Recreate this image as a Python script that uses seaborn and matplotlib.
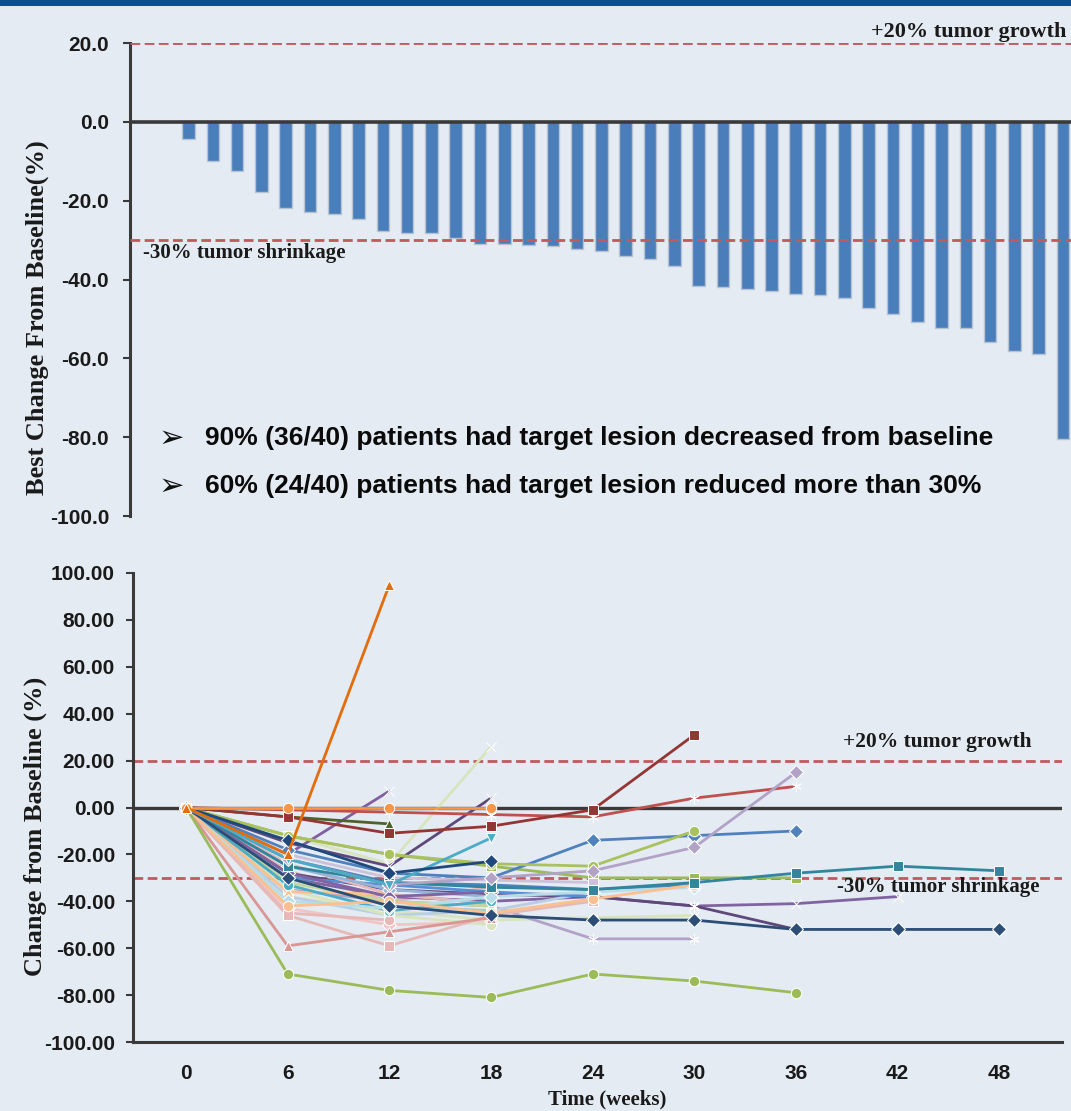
import matplotlib
matplotlib.use("Agg")
import matplotlib.pyplot as plt
from matplotlib.patches import Rectangle
import numpy as np
import pandas as pd
import seaborn as sns

# ---------------- data ----------------
# Waterfall: best change from baseline per patient (%)
patient_ids = list(range(1, 40))
best_change = [0, 0, -4.3, -10, -12.4, -17.7, -21.8, -23, -23.3, -24.6,
               -27.7, -28.2, -28.2, -29.5, -31, -31, -31.3, -31.6, -32.2,
               -32.8, -34, -34.7, -36.5, -41.6, -41.8, -42.5, -42.8, -43.8,
               -43.9, -44.8, -47.2, -48.7, -50.8, -52.2, -52.3, -55.8, -58.1,
               -58.8, -80.5]

# Spider plot: change from baseline (%) at each assessment
weeks = [0, 6, 12, 18, 24, 30, 36, 42, 48]
p01 = [0, -25, -35, -38]
p02 = [0, -30, -42, -44]
p03 = [0, -32, -40, -42]
p04 = [0, -45, -48]
p05 = [0, -36, -37]
p06 = [0, -22, -32, -33, -35, -33]
p07 = [0, -28, -38, -36]
p08 = [0, -33, -44, -40]
p09 = [0, -12, -20, -25, -30, -30, -30]
p10 = [0, -40, -43, -38, -36, -34]
p11 = [0, -27, -40, -34]
p12 = [0, -20, -30, -31, -32]
p13 = [0, -46, -59, -46, -40]
p14 = [0, -59, -53, -47]
p15 = [0, -42, -40, -45, -39, -33]
p16 = [0, -38, -44, -48, -47, -46]
p17 = [0, -35, -40, -42, -56, -56]
p18 = [0, -18, -28, -30, -14, -12, -10]
p19 = [0, -12, -20, -24, -25, -10]
p20 = [0, -25, -32, -34, -35, -32, -28, -25, -27]
p21 = [0, -30, -38, -40, -38, -42, -41, -38]
p22 = [0, -28, -35, -37, -38, -42, -52]
p23 = [0, -30, -42, -46, -48, -48, -52, -52, -52]
p24 = [0, -22, -33, -30, -27, -17, 15]
p25 = [0, -22, -33, -13]
p26 = [0, -12, -24, 26]
p27 = [0, -15, -25, 4]
p28 = [0, -20, 7]
p29 = [0, -4, -7]
p30 = [0, -1, -2, -3, -4, 4, 9]
p31 = [0, -4, -11, -8, -1, 31]
p32 = [0, -71, -78, -81, -71, -74, -79]
p33 = [0, -14, -28, -23]
p34 = [0, 0, 0, 0]
p35 = [0, -20, 95]
p36 = [0, -38, -46, -44, -36]
p37 = [0, -43, -50, -49]
p38 = [0, -30, -33, -36, -38]
p39 = [0, -35, -46, -50]
p40 = [0, -24, -37, -41]

series = [p36, p37, p38, p39, p40, p01, p02, p03, p04, p05, p06, p07, p08,
          p09, p10, p11, p12, p13, p14, p15, p16, p17, p18, p19, p20, p21,
          p22, p23, p24, p25, p26, p27, p28, p29, p30, p31, p32, p33, p34,
          p35]
line_colors = ['#B9CDE5', '#F2C4C3', '#558ED5', '#D7E4BD', '#E6B9B8',
               '#95B3D7', '#93CDDD', '#C3D69B', '#E6B9B8', '#FAC090',
               '#4F81BD', '#8064A2', '#4BACC6', '#9BBB59', '#B7DEE8',
               '#E6B9B8', '#CCC1DA', '#E6B9B8', '#D99694', '#FAC090',
               '#D7E4BD', '#B3A2C7', '#4F81BD', '#A9C25D', '#31859C',
               '#8064A2', '#5F497A', '#2C4D75', '#B3A2C7', '#4BACC6',
               '#D7E4BD', '#5F497A', '#7F5FA0', '#4F6228', '#C0504D',
               '#943634', '#9BBB59', '#1F497D', '#F79646', '#E46C0A']
line_markers = ['s', 'D', 'D', 'o', '^', 'D', 'o', '^', 'o', '^',
                's', 'D', 'o', 's', 'D', 'x', 's', 's', '^', 'o',
                (6, 2, 0), (6, 2, 0), 'D', 'o', 's', 'x', (6, 2, 0), 'D',
                'D', 'v', 'x', 'x', 'x', '^', (6, 2, 0), 's', 'o', 'D',
                'o', '^']

# ---------------- style ----------------
BG = '#E4EBF3'
sns.set_theme(style='white')
plt.rcParams['font.family'] = ['Liberation Sans', 'DejaVu Sans']
plt.rcParams['axes.facecolor'] = 'none'

W, H = 1071, 1111
fig = plt.figure(figsize=(W / 100, H / 100), dpi=100, facecolor=BG)


def fx(x):
    return x / W


def fy(y):
    return 1 - y / H


# dark header strip
fig.add_artist(Rectangle((0, fy(6)), 1, 6 / H, transform=fig.transFigure,
                         color='#0F4D8C', lw=0))

AXC = '#3A3A3A'
REF = '#C05A5E'
serif = ['Liberation Serif', 'DejaVu Serif']

# ---------------- waterfall ----------------
ax1 = fig.add_axes([fx(130), fy(516), fx(1071 - 130), (516 - 43) / H])
ax1.set_facecolor('none')
sns.barplot(x=patient_ids, y=best_change, color='#4A7EBB', width=0.52,
            edgecolor='#B7C3D0', linewidth=1.0, saturation=1, ax=ax1)
ax1.set_xlim(-0.41, 38.33)
ax1.set_ylim(-100, 20)
yt1 = [20, 0, -20, -40, -60, -80, -100]
ax1.set_yticks(yt1)
ax1.set_yticklabels([f'{v:.1f}' for v in yt1], fontsize=15,
                    fontweight='bold', color='#1A1A1A')
ax1.set_xticks([])
ax1.set_xlabel('')
ax1.set_ylabel('')
ax1.tick_params(axis='y', direction='out', length=5, width=1.5,
                color=AXC, pad=10, left=True)
for s in ['top', 'right', 'bottom']:
    ax1.spines[s].set_visible(False)
ax1.spines['left'].set_color(AXC)
ax1.spines['left'].set_linewidth(2.2)
ax1.axhline(0, color=AXC, lw=2.6, zorder=3)
ax1.axhline(20, color=REF, lw=2, ls=(0, (3.5, 1.6)), zorder=4)
ax1.axhline(-30, color=REF, lw=2, ls=(0, (3.5, 1.6)), zorder=4)

fig.text(fx(1066), fy(32), '+20% tumor growth', ha='right', va='center',
         fontsize=16, fontweight='bold', family=serif, color='#1A1A1A')
fig.text(fx(143), fy(253), '-30% tumor shrinkage', ha='left', va='center',
         fontsize=15, fontweight='bold', family=serif, color='#1A1A1A')
fig.text(fx(37), fy(318), 'Best Change From Baseline(%)', rotation=90,
         ha='center', va='center', fontsize=19, fontweight='bold',
         family=serif, color='#1A1A1A')

for ytxt, msg in [(438, '90% (36/40) patients had target lesion decreased from baseline'),
                  (486, '60% (24/40) patients had target lesion reduced more than 30%')]:
    fig.text(fx(159), fy(ytxt), '\u27A2', ha='left', va='center',
             fontsize=22, family=['DejaVu Sans'], color='#111111')
    fig.text(fx(205), fy(ytxt), msg, ha='left', va='center', fontsize=19,
             fontweight='bold', color='#0A0A0A')

# ---------------- spider plot ----------------
ax2 = fig.add_axes([fx(133), fy(1042), fx(1062 - 133), (1042 - 573) / H])
ax2.set_facecolor('none')
ax2.axhline(0, color=AXC, lw=2.4, zorder=1)
ax2.axhline(20, color=REF, lw=2, ls=(0, (3.5, 1.6)), zorder=1)
ax2.axhline(-30, color=REF, lw=2, ls=(0, (3.5, 1.6)), zorder=1)

line_art = {'x', '+', '|', '_'}


def is_line_art(m):
    return (isinstance(m, tuple) and m[1] == 2) or m in line_art


# line-art markers (x, asterisk) first, filled markers on top
for want_line_art in (True, False):
    rows, order, pal, mk = [], [], [], []
    for i, vals in enumerate(series):
        if is_line_art(line_markers[i]) != want_line_art:
            continue
        pid = f'P{i + 1:02d}'
        order.append(pid)
        pal.append(line_colors[i])
        mk.append(line_markers[i])
        for w, v in zip(weeks, vals):
            rows.append((pid, w, v))
    df = pd.DataFrame(rows, columns=['patient', 'week', 'change'])
    sns.lineplot(data=df, x='week', y='change', hue='patient',
                 style='patient', hue_order=order, style_order=order,
                 palette=pal, markers=mk, dashes=False, legend=False,
                 sort=False, lw=2, ms=7.5, ax=ax2)

ax2.set_xlim(-3.13, 51.7)
ax2.set_ylim(-100, 100)
ax2.set_xticks(weeks)
ax2.set_xticklabels([str(w) for w in weeks], fontsize=15, fontweight='bold',
                    color='#1A1A1A')
yt2 = [100, 80, 60, 40, 20, 0, -20, -40, -60, -80, -100]
ax2.set_yticks(yt2)
ax2.set_yticklabels([f'{v:.2f}' for v in yt2], fontsize=15,
                    fontweight='bold', color='#1A1A1A')
ax2.tick_params(axis='y', direction='out', length=5, width=1.5, color=AXC,
                pad=8, left=True)
ax2.tick_params(axis='x', length=0, pad=16)
ax2.set_xlabel('')
ax2.set_ylabel('')
for s in ['top', 'right']:
    ax2.spines[s].set_visible(False)
for s in ['left', 'bottom']:
    ax2.spines[s].set_color(AXC)
    ax2.spines[s].set_linewidth(2.2)

fig.text(fx(1032), fy(742), '+20% tumor growth', ha='right', va='center',
         fontsize=15.5, fontweight='bold', family=serif, color='#1A1A1A')
fig.text(fx(837), fy(887), '-30% tumor shrinkage', ha='left', va='center',
         fontsize=15, fontweight='bold', family=serif, color='#1A1A1A')
fig.text(fx(35), fy(826), 'Change from Baseline (%)', rotation=90,
         ha='center', va='center', fontsize=19, fontweight='bold',
         family=serif, color='#1A1A1A')
fig.text(fx(607), fy(1099), 'Time (weeks)', ha='center', va='center',
         fontsize=15, fontweight='bold', family=serif, color='#1A1A1A')

fig.savefig('out.png', dpi=100, facecolor=BG)
